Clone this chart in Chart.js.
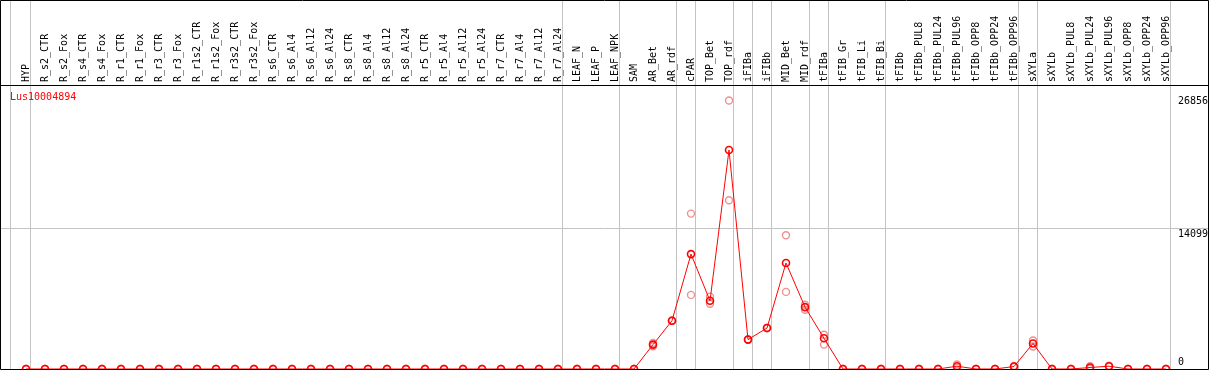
<!DOCTYPE html>
<html>
<head>
<meta charset="utf-8">
<script src="https://cdn.jsdelivr.net/npm/chart.js@4.4.1/dist/chart.umd.min.js"></script>
<style>
  html, body { margin: 0; padding: 0; background: #fff; }
  canvas { display: block; }
</style>
</head>
<body>
<canvas id="chart" width="1209" height="370"></canvas>
<script>
// Expression profile of one gene across tissues / treatments.
const GENE = 'Lus10004894';

const SAMPLES = [
    'HYP',
    'R_s2_CTR', 'R_s2_Fox', 'R_s4_CTR', 'R_s4_Fox', 'R_r1_CTR', 'R_r1_Fox',
    'R_r3_CTR', 'R_r3_Fox', 'R_r1s2_CTR', 'R_r1s2_Fox', 'R_r3s2_CTR', 'R_r3s2_Fox',
    'R_s6_CTR', 'R_s6_Al4', 'R_s6_Al12', 'R_s6_Al24',
    'R_s8_CTR', 'R_s8_Al4', 'R_s8_Al12', 'R_s8_Al24',
    'R_r5_CTR', 'R_r5_Al4', 'R_r5_Al12', 'R_r5_Al24',
    'R_r7_CTR', 'R_r7_Al4', 'R_r7_Al12', 'R_r7_Al24',
    'LEAF_N', 'LEAF_P', 'LEAF_NPK',
    'SAM', 'AR_Bet', 'AR_rdf', 'cPAR', 'TOP_Bet', 'TOP_rdf', 'iFIBa', 'iFIBb',
    'MID_Bet', 'MID_rdf', 'tFIBa', 'tFIB_Gr', 'tFIB_Li', 'tFIB_Bi',
    'tFIBb', 'tFIBb_PUL8', 'tFIBb_PUL24', 'tFIBb_PUL96', 'tFIBb_OPP8', 'tFIBb_OPP24', 'tFIBb_OPP96',
    'sXYLa', 'sXYLb', 'sXYLb_PUL8', 'sXYLb_PUL24', 'sXYLb_PUL96', 'sXYLb_OPP8', 'sXYLb_OPP24', 'sXYLb_OPP96',
];

// mean of the two replicates
const MEAN = [
    0,
    0, 0, 0, 0, 0, 0, 0, 0, 0, 0, 0, 0,
    0, 0, 0, 0, 0, 0, 0, 0, 0, 0, 0, 0, 0, 0, 0, 0,
    0, 0, 0,
    0, 2440, 4830, 11490, 6820, 21900, 2940, 4100,
    10600, 6190, 3070, 0, 0, 0,
    0, 0, 0, 280, 0, 0, 250,
    2550, 0, 0, 150, 280, 0, 0, 0,
];
const REP_A = [
    0,
    0, 0, 0, 0, 0, 0, 0, 0, 0, 0, 0, 0,
    0, 0, 0, 0, 0, 0, 0, 0, 0, 0, 0, 0, 0, 0, 0, 0,
    0, 0, 0,
    0, 2600, 4830, 15540, 7240, 26856, 2940, 4100,
    13380, 6420, 3430, 0, 0, 0,
    0, 0, 0, 450, 0, 0, 300,
    2850, 0, 0, 280, 320, 0, 0, 0,
];
const REP_B = [
    0,
    0, 0, 0, 0, 0, 0, 0, 0, 0, 0, 0, 0,
    0, 0, 0, 0, 0, 0, 0, 0, 0, 0, 0, 0, 0, 0, 0, 0,
    0, 0, 0,
    0, 2280, 4830, 7410, 6520, 16870, 2940, 4100,
    7710, 5920, 2440, 0, 0, 0,
    0, 0, 0, 110, 0, 0, 200,
    2250, 0, 0, 20, 240, 0, 0, 0,
];

const Y_TICKS = [0, 14099, 26856];
const Y_MAX = 28400;
// last sample index of each tissue group
const GROUP_ENDS = [0, 28, 31, 34, 35, 37, 38, 39, 41, 42, 45, 52, 53, 60];

const FONT = '"DejaVu Sans Mono", monospace';
const dividers = [-0.84, ...GROUP_ENDS.map(i => i + 0.23)];

const toPts = arr => arr.map((v, i) => ({ x: i, y: v }));
const noPad = s => { s.paddingLeft = 0; s.paddingRight = 0; s.paddingTop = 0; s.paddingBottom = 0; };

const decorPlugin = {
    id: 'decor',
    beforeDraw(chart) {
        const { ctx, chartArea, scales: { x } } = chart;
        ctx.save();
        ctx.strokeStyle = '#c4c4c4';
        ctx.lineWidth = 1;
        dividers.forEach(v => {
            const px = Math.round(x.getPixelForValue(v)) + 0.5;
            ctx.beginPath();
            ctx.moveTo(px, 0);
            ctx.lineTo(px, chartArea.bottom);
            ctx.stroke();
        });
        ctx.restore();
    },
    afterDraw(chart) {
        const { ctx, chartArea, scales: { y } } = chart;
        ctx.save();
        // frame
        ctx.strokeStyle = '#000';
        ctx.lineWidth = 1;
        ctx.beginPath();
        ctx.moveTo(0.5, 0.5);
        ctx.lineTo(chartArea.right + 0.5, 0.5);
        ctx.lineTo(chartArea.right + 0.5, chartArea.bottom + 0.5);
        ctx.lineTo(0.5, chartArea.bottom + 0.5);
        ctx.closePath();
        ctx.stroke();

        // gene name
        ctx.font = `10px ${FONT}`;
        ctx.fillStyle = '#ff0000';
        ctx.textAlign = 'left';
        ctx.textBaseline = 'middle';
        ctx.fillText(GENE, 10, chartArea.top + 12);

        // value labels, inside the right edge
        ctx.fillStyle = '#000';
        ctx.textAlign = 'left';
        const lx = chartArea.right - 30;
        Y_TICKS.forEach((v, i) => {
            const py = y.getPixelForValue(v);
            if (i === 0) { ctx.textBaseline = 'bottom'; ctx.fillText(String(v), lx, py - 2); }
            else if (i === Y_TICKS.length - 1) { ctx.textBaseline = 'middle'; ctx.fillText(String(v), lx, py + 1); }
            else { ctx.textBaseline = 'top'; ctx.fillText(String(v), lx, py + 1); }
        });
        ctx.restore();
    },
};

new Chart(document.getElementById('chart'), {
    type: 'line',
    data: {
        datasets: [
            {
                label: 'mean',
                data: toPts(MEAN),
                borderColor: '#ff0000',
                backgroundColor: 'rgba(0,0,0,0)',
                borderWidth: 1,
                pointRadius: 3.5,
                pointBorderWidth: 1.6,
                pointBorderColor: '#ff0000',
                pointBackgroundColor: 'rgba(0,0,0,0)',
                tension: 0,
            },
            {
                label: 'rep A',
                data: toPts(REP_A),
                showLine: false,
                pointRadius: 3.5,
                pointBorderWidth: 1.4,
                pointBorderColor: '#f09090',
                pointBackgroundColor: 'rgba(0,0,0,0)',
            },
            {
                label: 'rep B',
                data: toPts(REP_B),
                showLine: false,
                pointRadius: 3.5,
                pointBorderWidth: 1.4,
                pointBorderColor: '#f09090',
                pointBackgroundColor: 'rgba(0,0,0,0)',
            },
        ],
    },
    options: {
        responsive: false,
        animation: false,
        layout: { autoPadding: false, padding: { left: 1, right: 1, top: 0, bottom: 1 } },
        plugins: { legend: { display: false }, tooltip: { enabled: false } },
        scales: {
            x: {
                type: 'linear',
                position: 'top',
                min: -25 / 19,
                max: -25 / 19 + 1207 / 19,
                afterBuildTicks: s => { s.ticks = SAMPLES.map((_, i) => ({ value: i })); },
                afterFit: s => { s.height = 85; noPad(s); },
                grid: { display: false, drawTicks: false },
                border: { display: true, color: '#000', width: 1 },
                ticks: {
                    autoSkip: false,
                    minRotation: 90,
                    maxRotation: 90,
                    padding: 3,
                    labelOffset: 12,
                    color: '#000',
                    font: { family: FONT, size: 10 },
                    callback: v => SAMPLES[v] ?? '',
                },
            },
            y: {
                type: 'linear',
                position: 'right',
                min: 0,
                max: Y_MAX,
                afterBuildTicks: s => { s.ticks = Y_TICKS.map(v => ({ value: v })); },
                afterFit: s => { s.width = 0; noPad(s); },
                ticks: { display: false },
                border: { display: false },
                grid: {
                    drawTicks: false,
                    color: c => (c.tick && c.tick.value === Y_TICKS[1]) ? '#c4c4c4' : 'rgba(0,0,0,0)',
                },
            },
        },
    },
    plugins: [decorPlugin],
});
</script>
</body>
</html>
